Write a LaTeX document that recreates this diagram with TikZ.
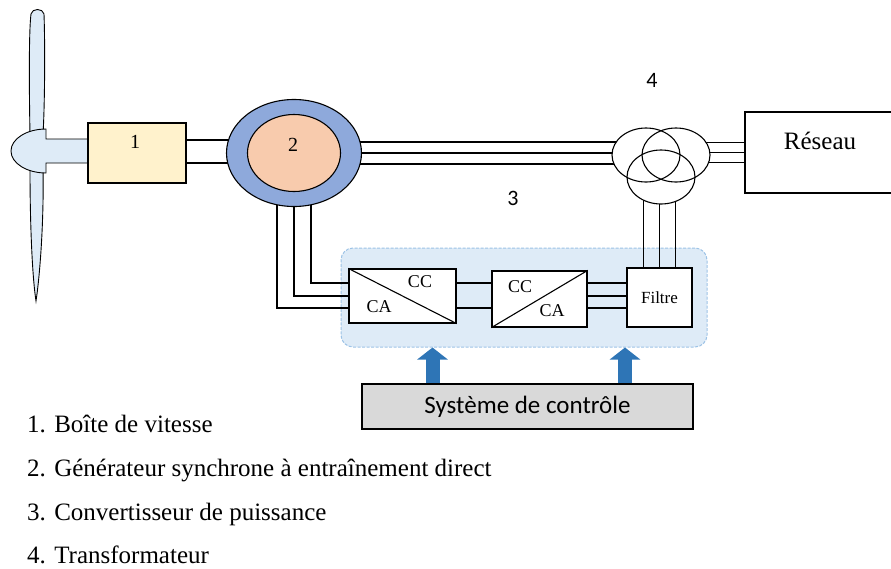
\documentclass[tikz,border=0pt]{standalone}
\usepackage{fontspec}
\setmainfont{Liberation Serif}
\newfontfamily\calibri{Carlito}
\usetikzlibrary{shapes.geometric,arrows.meta,backgrounds}
\definecolor{bladeblue}{HTML}{DEEBF7}
\definecolor{gearyellow}{HTML}{FFF2CC}
\definecolor{statorblue}{HTML}{8EA9DB}
\definecolor{rotorpink}{HTML}{F8CBAD}
\definecolor{zoneline}{HTML}{9DC3E6}
\definecolor{ctrlblue}{HTML}{2E75B6}
\definecolor{ctrlgray}{HTML}{D9D9D9}
\tikzset{
  unit/.style={draw,line width=1.1pt,inner sep=0pt,fill=white},
  bus/.style={line width=1.1pt},
  blade/.style={draw,line width=0.9pt,fill=bladeblue},
  trafo/.style={ellipse,fill=white,minimum width=68pt,minimum height=54pt,inner sep=0pt},
  conv zone/.style={draw=zoneline,fill=bladeblue,dash pattern=on 3pt off 1.5pt,line width=1pt,rounded corners=12pt,inner sep=0pt},
  ctrl arrow/.style={ctrlblue,line width=14pt,-{Triangle[width=30pt,length=12pt]}},
  num/.style={font=\fontsize{20}{24}\selectfont,inner sep=0pt},
  sfnum/.style={font=\calibri\fontsize{22}{26}\selectfont,inner sep=0pt},
  cvtext/.style={font=\fontsize{18}{22}\selectfont,inner sep=0pt},
  legend/.style={font=\fontsize{25}{30}\selectfont,inner sep=0pt,anchor=base west}
}
\begin{document}
\begin{tikzpicture}[x=1pt,y=-1pt]
  \useasboundingbox (0,0) rectangle (891,568);
  % turbine
  \draw[blade] (30,135) .. controls (29,80) and (29,30) .. (31,14) .. controls (32,8) and (43,8) .. (44,14) .. controls (45,40) and (45,100) .. (43,135) -- cycle;
  \draw[blade] (30,170) .. controls (30,220) and (32,275) .. (36,301) .. controls (40,275) and (44,220) .. (43,170) -- cycle;
  \draw[blade] (46,173) arc[start angle=90,end angle=270,x radius=35,y radius=22] -- (46,139) -- (90,139) -- (90,163) -- (46,163) -- cycle;
  \node[unit,fill=gearyellow,minimum width=98pt,minimum height=60pt] (box) at (137,153) {};
  \node[num] (boxlbl) at (135,142) {1};
  % generator
  \node[unit,ellipse,fill=statorblue,minimum width=135pt,minimum height=107pt] (gen) at (294,153) {};
  \node[unit,ellipse,fill=rotorpink,minimum width=93pt,minimum height=77pt] (rotor) at (294,153) {};
  \node[num] (genlbl) at (293,145) {2};
  % transformer
  \node[trafo] (trafoA) at (646,155) {};
  \node[trafo] (trafoB) at (676,155) {};
  \node[trafo] (trafoC) at (661,177) {};
  \foreach \t in {trafoA,trafoB,trafoC}
    \draw[bus] (\t.center) ellipse [x radius=34,y radius=27];
  \node[sfnum] (trafolbl) at (652,80) {4};
  \node[unit,minimum width=150pt,minimum height=81pt] (net) at (820,152.5) {};
  \node[font=\fontsize{25}{30}\selectfont,inner sep=0pt] (netlbl) at (820,141) {Réseau};
  % converter
  \node[unit,minimum width=107pt,minimum height=54pt] (conv1) at (402.5,296) {};
  \draw[bus] (conv1.north west) -- (conv1.south east);
  \node[cvtext] (conv1cc) at (420,282) {CC};
  \node[cvtext] (conv1ca) at (379,307) {CA};
  \node[unit,minimum width=95pt,minimum height=56pt] (conv2) at (539.5,299) {};
  \draw[bus] (conv2.south west) -- (conv2.north east);
  \node[cvtext] (conv2cc) at (520,287) {CC};
  \node[cvtext] (conv2ca) at (552,311) {CA};
  \node[unit,minimum width=65pt,minimum height=59pt,font=\fontsize{17}{20}\selectfont] (filt) at (659.5,297.5) {Filtre};
  \node[sfnum] (convlbl) at (513,198) {3};
  % control
  \node[unit,fill=ctrlgray,line width=1.2pt,minimum width=331pt,minimum height=45pt,font=\calibri\fontsize{25}{30}\selectfont] (ctrl) at (527.5,406.5) {Système de contrôle};
  \begin{pgfonlayer}{background}
    \node[conv zone,minimum width=366pt,minimum height=99pt] (zone) at (524,297.5) {};
    \draw[bus] ([yshift=13pt]box.east) -- ([yshift=13pt]box.east -| gen.center);
    \draw[bus] ([yshift=-10pt]box.east) -- ([yshift=-10pt]box.east -| gen.center);
    \foreach \dy in {11,0,-11}
      \draw[bus] ([yshift=\dy pt]gen.center) -- ([yshift=\dy pt]gen.center -| trafoA.center);
    \foreach \dy in {10,0,-10}
      \draw[bus] ([yshift=\dy pt]net.west -| trafoB.center) -- ([yshift=\dy pt]net.west);
    \foreach \dx in {-16,0,16}
      \draw[bus] ([xshift=\dx pt]filt.north) -- ([xshift=\dx pt]filt.north |- trafoC.center);
    \foreach \dx/\dy in {17/13,0/0,-17/-12}
      \draw[bus] ([xshift=\dx pt]gen.center) |- ([yshift=\dy pt]conv1.west);
    \foreach \dy in {13,-12}
      \draw[bus] ([yshift=\dy pt]conv1.east) -- ([yshift=\dy pt]conv1.east -| conv2.west);
    \foreach \dy in {13,0,-12}
      \draw[bus] ([yshift=\dy pt]conv1.east -| conv2.east) -- ([yshift=\dy pt]conv1.east -| filt.west);
  \end{pgfonlayer}
  \draw[ctrl arrow] ([xshift=-95pt]ctrl.north) -- ([xshift=-95pt]ctrl.north |- zone.south);
  \draw[ctrl arrow] ([xshift=97.5pt]ctrl.north) -- ([xshift=97.5pt]ctrl.north |- zone.south);
  % legend
  \node[legend] (leg1) at (27,432) {1. Boîte de vitesse};
  \node[legend] (leg2) at (27,476) {2. Générateur synchrone à entraînement direct};
  \node[legend] (leg3) at (27,520) {3. Convertisseur de puissance};
  \node[legend] (leg4) at (27,563) {4. Transformateur};
\end{tikzpicture}
\end{document}
